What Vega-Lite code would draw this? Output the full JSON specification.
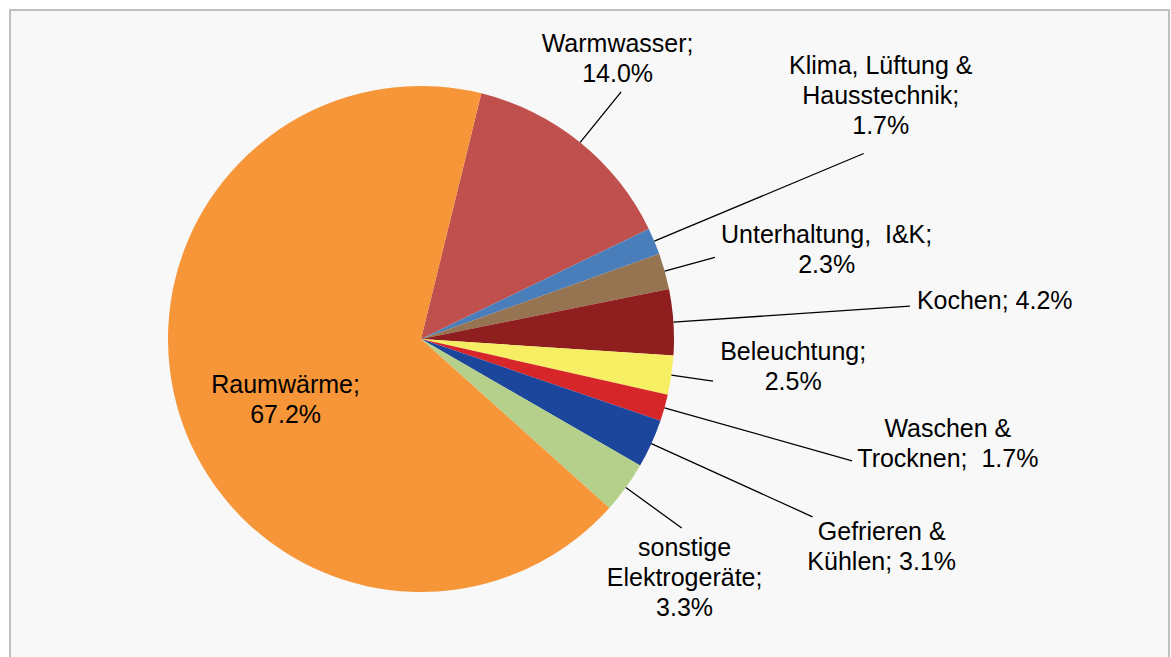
{
  "$schema": "https://vega.github.io/schema/vega-lite/v6.json",
  "width": 1159,
  "height": 660,
  "autosize": "none",
  "padding": {"left": 10, "top": 10, "right": 2, "bottom": 0},
  "background": "white",
  "view": {"fill": "#f8f8f8", "stroke": "#bfbfbf", "strokeWidth": 2},
  "data": {
    "values": [
      {"i": 1, "category": "Warmwasser", "value": 14.0, "label": "Warmwasser;\n14.0%"},
      {"i": 2, "category": "Klima, Lüftung & Hausstechnik", "value": 1.7, "label": "Klima, Lüftung &\nHausstechnik;\n1.7%"},
      {"i": 3, "category": "Unterhaltung, I&K", "value": 2.3, "label": "Unterhaltung,\u00a0 I&K;\n2.3%"},
      {"i": 4, "category": "Kochen", "value": 4.2, "label": "Kochen; 4.2%"},
      {"i": 5, "category": "Beleuchtung", "value": 2.5, "label": "Beleuchtung;\n2.5%"},
      {"i": 6, "category": "Waschen & Trocknen", "value": 1.7, "label": "Waschen &\nTrocknen;\u00a0 1.7%"},
      {"i": 7, "category": "Gefrieren & Kühlen", "value": 3.1, "label": "Gefrieren &\nKühlen; 3.1%"},
      {"i": 8, "category": "sonstige Elektrogeräte", "value": 3.3, "label": "sonstige\nElektrogeräte;\n3.3%"},
      {"i": 9, "category": "Raumwärme", "value": 67.2, "label": "Raumwärme;\n67.2%"}
    ]
  },
  "encoding": {
    "theta": {"field": "value", "type": "quantitative", "stack": true, "scale": {"range": [0.2409, 6.5241]}},
    "order": {"field": "i", "type": "quantitative"}
  },
  "layer": [
    {
      "mark": {"type": "arc", "outerRadius": 253, "x": 411, "y": 329},
      "encoding": {
        "color": {
          "field": "category",
          "type": "nominal",
          "legend": null,
          "scale": {
            "domain": ["Warmwasser", "Klima, Lüftung & Hausstechnik", "Unterhaltung, I&K", "Kochen", "Beleuchtung", "Waschen & Trocknen", "Gefrieren & Kühlen", "sonstige Elektrogeräte", "Raumwärme"],
            "range": ["#c0504d", "#4a7ebb", "#967451", "#8f1f1f", "#f7ef63", "#d7262a", "#1b469b", "#b4d08a", "#f79539"]
          }
        }
      }
    },
    {
      "mark": {"type": "arc", "padAngle": 3, "x": 411, "y": 329, "fillOpacity": 0, "stroke": "black", "strokeWidth": 1.3},
      "encoding": {
        "radius": {"value": {"expr": "[318,480,305,490,295,448,430,322,254][datum.i-1]"}},
        "radius2": {"value": 253},
        "strokeOpacity": {"condition": {"test": "datum.i === 9", "value": 0}, "value": 1}
      }
    },
    {
      "mark": {"type": "text", "x": 411, "y": 329, "font": "Liberation Sans", "fontSize": 25, "lineHeight": 30, "lineBreak": "\n", "align": "center", "baseline": "middle", "fill": "black",
        "dx": {"expr": "[-18,-18,0,0,3,12,0,-23,6][datum.i-1]"},
        "dy": {"expr": "[-15,-43,24,0,-25,-41,-1,31,17][datum.i-1] - 15*(length(split(datum.label,'\\n'))-1)"}},
      "encoding": {
        "text": {"field": "label", "type": "nominal"},
        "radius": {"value": {"expr": "[341,518,421,575,373,535,506,354,148][datum.i-1]"}}
      }
    }
  ]
}
